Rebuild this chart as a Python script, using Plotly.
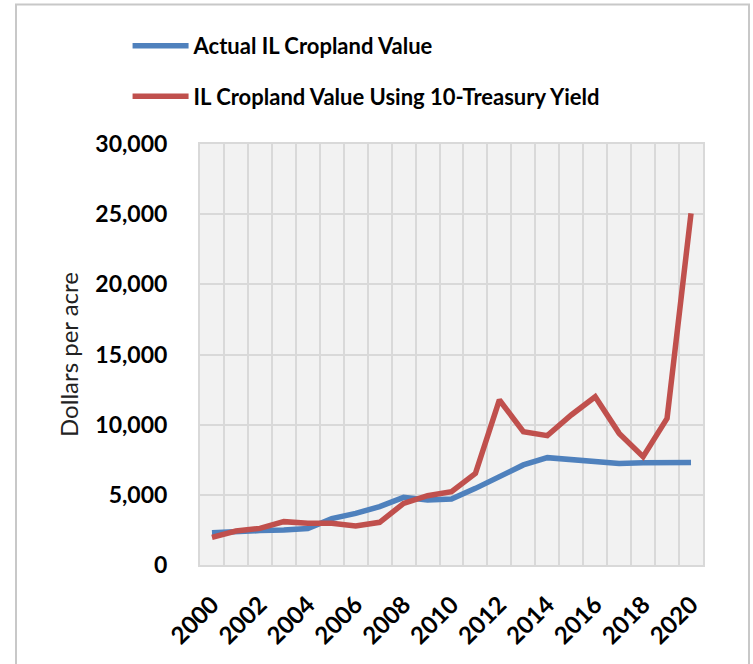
import plotly.graph_objects as go

# Illinois cropland value per acre, 2000-2020
years = list(range(2000, 2021))
actual_value = [2300, 2420, 2450, 2500, 2600, 3300, 3680, 4160, 4820, 4630, 4700,
                5460, 6300, 7130, 7650, 7530, 7320, 7240, 7290, 7310, 7310]
treasury_value = [1970, 2420, 2610, 3090, 2970, 2970, 2780, 3040, 4390, 4940, 5230,
                  6530, 11760, 9500, 9220, 10690, 11990, 9380, 7720, 10450, 25060]
series_names = ["Actual IL Cropland Value", "IL Cropland Value Using 10-Treasury Yield"]
y_ticks = [0, 5000, 10000, 15000, 20000, 25000, 30000]
x_ticks = list(range(2000, 2021, 2))

FONT = "Lato"
BLUE = "#4f81bd"
RED = "#c0504d"
GRID = "#d9d9d9"

fig = go.Figure()
fig.add_trace(go.Scatter(x=years, y=actual_value, mode="lines", name=series_names[0],
                         legendgroup="a",
                         line=dict(color=BLUE, width=5.5)))
fig.add_trace(go.Scatter(x=years, y=treasury_value, mode="lines", name=series_names[1],
                         legendgroup="b",
                         line=dict(color=RED, width=5.5)))

fig.update_layout(
    width=753, height=664,
    margin=dict(l=200, r=50, t=144, b=99),
    paper_bgcolor="white",
    plot_bgcolor="#f2f2f2",
    font=dict(family=FONT, color="#000000"),
    showlegend=True,
    legend=dict(
        x=-0.144, y=1.283, xanchor="left", yanchor="top",
        orientation="v", tracegroupgap=19, itemwidth=56,
        font=dict(family=FONT, size=22, weight="bold", color="#000000"),
        bgcolor="rgba(0,0,0,0)",
    ),
    xaxis=dict(
        range=[1999.5, 2020.5],
        tickmode="array", tickvals=x_ticks, ticktext=[str(v) for v in x_ticks],
        tickangle=-45, showgrid=False, zeroline=False,
        ticks="", ticklabelstandoff=14,
        tickfont=dict(family=FONT, size=24, weight="bold"),
        minor=dict(tickmode="array", tickvals=[y + 0.5 for y in range(1999, 2021)],
                   showgrid=True, gridcolor=GRID, gridwidth=2, ticks=""),
        showline=True, linecolor=GRID, linewidth=2, mirror=True,
    ),
    yaxis=dict(
        range=[0, 30000],
        tickmode="array", tickvals=y_ticks, tickformat=",",
        showgrid=True, gridcolor=GRID, gridwidth=2, zeroline=False,
        ticks="", ticklabelstandoff=26,
        tickfont=dict(family=FONT, size=23, weight="bold"),
        showline=True, linecolor=GRID, linewidth=2, mirror=True,
        title=dict(text="Dollars per acre", standoff=10,
                   font=dict(family=FONT, size=24, color="#222222")),
    ),
    shapes=[dict(type="rect", xref="paper", yref="paper",
                 x0=(16 - 200) / 503, x1=(749 - 200) / 503,
                 y0=(565 - 700) / 421, y1=(565 - 4.5) / 421,
                 line=dict(color="#c8c8c8", width=2), fillcolor="rgba(0,0,0,0)",
                 layer="below")],
)

fig.write_html("out.html")
